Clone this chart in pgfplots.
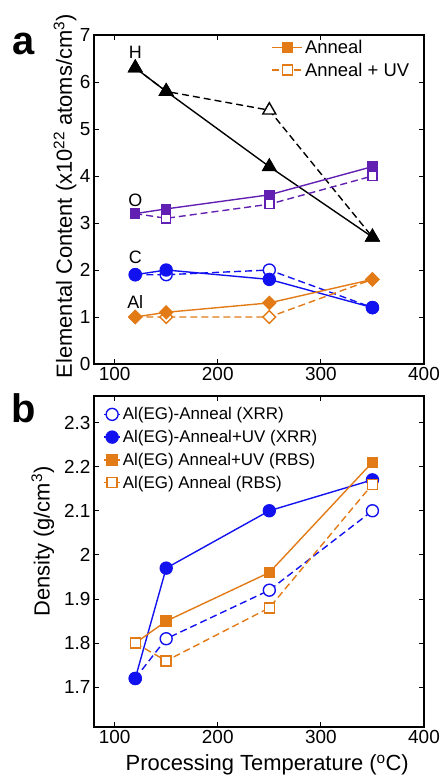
\documentclass[border=0pt]{standalone}
\usepackage{fontspec}
\setmainfont{Liberation Sans}
\usepackage{pgfplots}
\pgfplotsset{compat=1.18}
\definecolor{cor}{RGB}{226,122,22}
\definecolor{cbl}{RGB}{18,18,240}
\definecolor{cpu}{RGB}{98,32,178}
\pgfplotsset{
  common/.style={
    width=330bp, height=330bp, scale only axis,
    xmin=80, xmax=400, xtick={100,200,300,400},
    tick align=inside, major tick length=5bp,
    axis line style={line width=1.2pt},
    every tick/.style={black, line width=0.8pt},
    ticklabel style={font=\fontsize{19}{19}\selectfont},
    /pgf/number format/assume math mode=true,
    label style={font=\fontsize{22}{22}\selectfont},
    legend style={draw=none, fill=none,
      inner sep=1bp, cells={anchor=west}},
    every axis plot/.append style={line width=1.4pt},
  },
  dsh/.style={dash pattern=on 7bp off 4bp},
}
\begin{document}
\begin{tikzpicture}
\useasboundingbox (0bp,0bp) rectangle (441bp,-777bp);
% panel a
\begin{axis}[common, at={(94bp,-364bp)}, anchor=south west, height=329bp,
  ymin=0, ymax=7, ytick={0,1,2,3,4,5,6,7},
  ylabel={Elemental Content (x10\textsuperscript{22} atoms/cm\textsuperscript{3})},
  ylabel style={at={(axis description cs:-0.088,0.51)}, anchor=center},
  legend style={at={(axis description cs:0.535,0.995)}, anchor=north west,
    font=\fontsize{18.5}{18.5}\selectfont, row sep=4bp},
  legend image code/.code={\draw[mark repeat=2,mark phase=2] plot coordinates {(0bp,0bp)(15bp,0bp)(30bp,0bp)};},
]
\addlegendimage{cor, mark=square*, mark size=5bp, line width=1.4pt}
\addlegendentry{Anneal}
\addlegendimage{cor, dsh, mark=square*, mark size=5bp, mark options={solid, fill=white}, line width=1.4pt}
\addlegendentry{Anneal + UV}
% H
\addplot[black, dsh, mark=triangle*, mark size=7.5bp, mark options={solid, fill=white}, forget plot] coordinates {(120,6.3)(150,5.8)(250,5.4)(350,2.7)};
\addplot[black, mark=triangle*, mark size=7.5bp, forget plot] coordinates {(120,6.3)(150,5.8)(250,4.2)(350,2.7)};
% O
\addplot[cpu, dsh, mark=square*, mark size=4.5bp, mark options={solid, fill=white}, forget plot] coordinates {(120,3.2)(150,3.1)(250,3.4)(350,4.0)};
\addplot[cpu, mark=square*, mark size=4.5bp, forget plot] coordinates {(120,3.2)(150,3.3)(250,3.6)(350,4.2)};
% C
\addplot[cbl, dsh, mark=*, mark size=6bp, mark options={solid, fill=white}, forget plot] coordinates {(120,1.9)(150,1.9)(250,2.0)(350,1.2)};
\addplot[cbl, mark=*, mark size=6bp, forget plot] coordinates {(120,1.9)(150,2.0)(250,1.8)(350,1.2)};
% Al
\addplot[cor, dsh, mark=square*, mark size=4.5bp, mark options={solid, fill=white, rotate=45}, forget plot] coordinates {(120,1.0)(150,1.0)(250,1.0)(350,1.8)};
\addplot[cor, mark=square*, mark size=4.5bp, mark options={rotate=45}, forget plot] coordinates {(120,1.0)(150,1.1)(250,1.3)(350,1.8)};
\node[font=\fontsize{18}{18}\selectfont] at (axis cs:120,6.64) {H};
\node[font=\fontsize{18}{18}\selectfont] at (axis cs:120,3.49) {O};
\node[font=\fontsize{18}{18}\selectfont] at (axis cs:120,2.26) {C};
\node[font=\fontsize{18}{18}\selectfont] at (axis cs:120,1.32) {Al};
\end{axis}
\node[font=\fontsize{40}{40}\selectfont\bfseries] at (24bp,-44bp) {a};
% panel b
\begin{axis}[common, at={(94bp,-727bp)}, anchor=south west, height=331bp,
  ymin=1.61, ymax=2.36, ytick={1.7,1.8,1.9,2,2.1,2.2,2.3},
  ylabel={Density (g/cm\textsuperscript{3})},
  ylabel style={at={(axis description cs:-0.155,0.56)}, anchor=center},
  xlabel={Processing Temperature (\textsuperscript{o}C)},
  xlabel style={at={(axis description cs:0.525,-0.115)}, anchor=center},
  legend style={at={(axis description cs:0.025,0.975)}, anchor=north west,
    font=\fontsize{17}{17}\selectfont, row sep=5bp},
  legend image code/.code={\draw[mark repeat=2,mark phase=2] plot coordinates {(0bp,0bp)(8bp,0bp)(16bp,0bp)};},
]
\addplot[cbl, dsh, mark=*, mark size=6bp, mark options={solid, fill=white}] coordinates {(120,1.72)(150,1.81)(250,1.92)(350,2.10)};
\addlegendentry{Al(EG)-Anneal (XRR)}
\addplot[cbl, mark=*, mark size=6bp] coordinates {(120,1.72)(150,1.97)(250,2.10)(350,2.17)};
\addlegendentry{Al(EG)-Anneal+UV (XRR)}
\addplot[cor, mark=square*, mark size=5bp] coordinates {(120,1.80)(150,1.85)(250,1.96)(350,2.21)};
\addlegendentry{Al(EG) Anneal+UV (RBS)}
\addplot[cor, dsh, mark=square*, mark size=5bp, mark options={solid, fill=white}] coordinates {(120,1.80)(150,1.76)(250,1.88)(350,2.16)};
\addlegendentry{Al(EG) Anneal (RBS)}
\end{axis}
\node[font=\fontsize{40}{40}\selectfont\bfseries] at (24bp,-408bp) {b};
\end{tikzpicture}
\end{document}
